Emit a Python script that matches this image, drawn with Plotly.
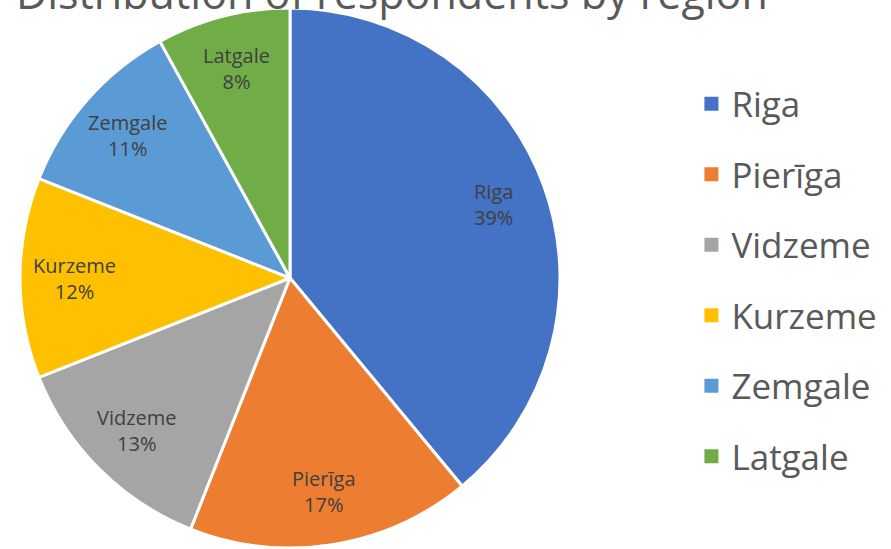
import math
import plotly.graph_objects as go

regions = ["Riga", "Pierīga", "Vidzeme", "Kurzeme", "Zemgale", "Latgale"]
shares = [39, 17, 13, 12, 11, 8]
colors = ["#4472C4", "#ED7D31", "#A5A5A5", "#FFC000", "#5B9BD5", "#70AD47"]
title_text = "Distribution of respondents by region"

W, H = 891, 549
x0, x1, y0, y1 = 20, 560, 8, 548
fig = go.Figure()
fig.add_trace(go.Pie(
    labels=regions, values=shares, sort=False, direction="clockwise", rotation=0,
    marker=dict(colors=colors, line=dict(color="white", width=3)),
    textinfo="none", showlegend=False, hoverinfo="label+percent",
    domain=dict(x=[x0 / W, x1 / W], y=[1 - y1 / H, 1 - y0 / H]),
))
for r, c in zip(regions, colors):
    fig.add_trace(go.Scatter(
        x=[None], y=[None], mode="markers", name=r, legendgroup=r,
        marker=dict(symbol="square", size=14, color=c),
    ))

# data labels placed at the mid-angle of each slice
cx = (x0 + x1) / 2 / W
cy = 1 - (y0 + y1) / 2 / H
rad = (x1 - x0) / 2
total = sum(shares)
annots = []
cum = 0
for r, v in zip(regions, shares):
    mid = (cum + v / 2) / total * 2 * math.pi
    cum += v
    d = rad * 0.8
    annots.append(dict(
        text=f"{r}<br>{round(v / total * 100)}%", x=cx + d * math.sin(mid) / W,
        y=cy + d * math.cos(mid) / H, xref="paper", yref="paper",
        showarrow=False, xanchor="center", yanchor="middle",
        font=dict(family="Open Sans", size=20, color="#404040")))
annots.append(dict(text=title_text, x=392 / W, y=1, xref="paper", yref="paper",
                   xanchor="center", yanchor="middle", yshift=8, showarrow=False,
                   font=dict(family="Open Sans", size=43, color="#595959")))

fig.update_layout(
    width=W, height=H, margin=dict(l=0, r=0, t=0, b=0),
    paper_bgcolor="white", plot_bgcolor="white",
    xaxis=dict(visible=False), yaxis=dict(visible=False),
    legend=dict(x=0.776, y=0.49, xanchor="left", yanchor="middle",
                font=dict(family="Open Sans", size=35, color="#595959"),
                tracegroupgap=22, itemwidth=30),
    annotations=annots,
)
fig.write_html("out.html")
